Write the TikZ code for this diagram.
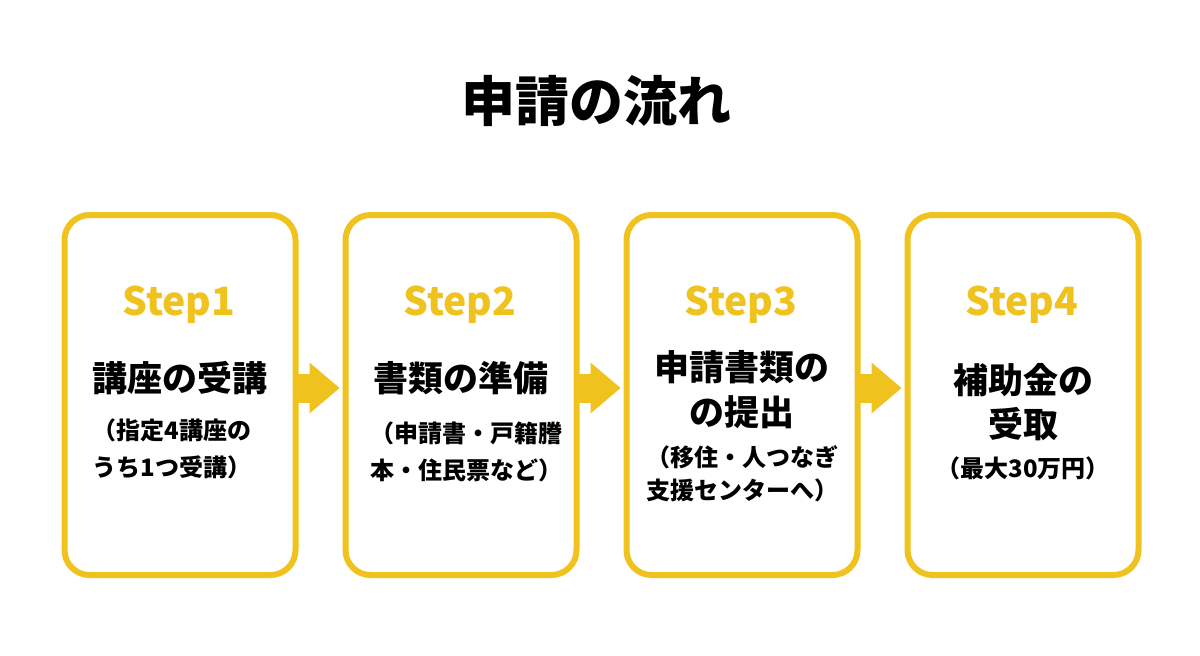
\documentclass[tikz,border=0pt]{standalone}
\usepackage{fontspec}
\setmainfont{Noto Sans CJK JP}
\usetikzlibrary{arrows.meta}
\definecolor{stepyellow}{RGB}{240,194,30}

\begin{document}
\begin{tikzpicture}[x=0.5pt,y=-0.5pt,>=Triangle]
  \tikzset{
    stepbox/.style={draw=stepyellow,line width=3pt,rounded corners=12.5pt,fill=white,
      minimum width=115.5pt,minimum height=180pt,inner sep=0pt,outer sep=0pt},
    steplabel/.style={text=stepyellow,font=\fontsize{19.5}{24}\selectfont\bfseries,anchor=base},
    maintext/.style={font=\fontsize{17.5}{22.5}\selectfont\bfseries,align=center},
    subtext/.style={font=\fontsize{12}{18.5}\selectfont\bfseries,align=center},
    flowarrow/.style={draw=stepyellow,line width=14.5pt,
      -{Triangle[line width=0pt,length=15pt,width=25.5pt]},shorten >=3pt}
  }
  \useasboundingbox[fill=white] (0,0) rectangle (1200,655);
  \node[font=\fontsize{27}{32}\selectfont\bfseries] (title) at (596,101) {申請の流れ};
  % step boxes
  \node[stepbox] (box1) at (180,395) {};
  \node[stepbox] (box2) at (461,395) {};
  \node[stepbox] (box3) at (742,395) {};
  \node[stepbox] (box4) at (1023,395) {};
  % arrows between the steps
  \foreach \a/\b in {box1/box2,box2/box3,box3/box4}
    \draw[flowarrow] ([yshift=3.5pt]\a.east) -- ([yshift=3.5pt]\b.west);
  % Step1
  \node[steplabel] (lab1) at (179,315) {Step1};
  \node[maintext] (main1) at (180,378) {講座の受講};
  \node[subtext] (sub1) at (172,448.5) {（指定4講座の\\うち1つ受講）};
  % Step2
  \node[steplabel] (lab2) at (460,315) {Step2};
  \node[maintext] (main2) at (461,378) {書類の準備};
  \node[subtext] (sub2) at (466,451.5) {（申請書・戸籍謄\\本・住民票など）};
  % Step3
  \node[steplabel] (lab3) at (741,315) {Step3};
  \node[maintext] (main3) at (742,389.5) {申請書類の\\の提出};
  \node[subtext,font=\fontsize{12}{16.5}\selectfont\bfseries] (sub3) at (742,473.5) {（移住・人つなぎ\\支援センターへ）};
  % Step4
  \node[steplabel] (lab4) at (1022,315) {Step4};
  \node[maintext,font=\fontsize{17.5}{22}\selectfont\bfseries] (main4) at (1023,402) {補助金の\\受取};
  \node[subtext] (sub4) at (1023,468) {（最大30万円）};
\end{tikzpicture}
\end{document}
